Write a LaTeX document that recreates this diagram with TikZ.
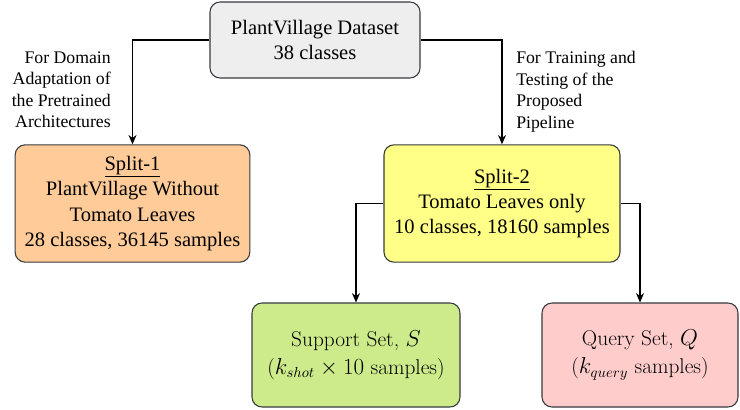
\documentclass[tikz,border=0pt]{standalone}
\usepackage{fontspec}
\setmainfont{Liberation Serif}
\newfontfamily\lmfont{Latin Modern Roman}
\usetikzlibrary{arrows.meta}

\definecolor{boxline}{HTML}{36393D}
\definecolor{grayfill}{HTML}{EEEEEE}
\definecolor{orangefill}{HTML}{FFCC99}
\definecolor{yellowfill}{HTML}{FFFF88}
\definecolor{greenfill}{HTML}{CDEB8B}
\definecolor{pinkfill}{HTML}{FFCCCC}

\begin{document}
\begin{tikzpicture}[x=0.75pt,y=-0.75pt,
            link/.style={-{Stealth[length=7pt,width=6pt]},line width=0.8pt},
            main node/.style={draw=boxline,line width=0.8pt,rounded corners=7.5pt,
                align=center,inner sep=0pt,font=\fontsize{15.4}{19}\selectfont},
            set node/.style={main node,font=\lmfont\fontsize{16}{21}\selectfont},
            note/.style={inner sep=0pt,font=\fontsize{13.3}{16.2}\selectfont}]

        \useasboundingbox (0,0) rectangle (740,410);

        % Define vertices
        \node[main node,fill=grayfill,minimum width=157.5pt,minimum height=57pt] (data) at (315,40)
            {PlantVillage Dataset\\38 classes};
        \node[main node,fill=orangefill,minimum width=176pt,minimum height=88pt] (split1) at (132.5,203.5)
            {\underline{Split-1}\\PlantVillage Without\\Tomato Leaves\\28 classes, 36145 samples};
        \node[main node,fill=yellowfill,minimum width=177pt,minimum height=88pt] (split2) at (502,203.5)
            {\underline{Split-2}\\Tomato Leaves only\\10 classes, 18160 samples};
        \node[set node,fill=greenfill,minimum width=156pt,minimum height=78pt] (support) at (356,355)
            {Support Set, $S$\\($k_{shot}\times 10$ samples)};
        \node[set node,fill=pinkfill,minimum width=147pt,minimum height=78pt] (query) at (640,355)
            {Query Set, $Q$\\($k_{query}$ samples)};

        % Labels
        \node[note,anchor=north east,align=right] (domain) at (111,51)
            {For Domain\\Adaptation of\\the Pretrained\\Architectures};
        \node[note,anchor=north west,align=left] (training) at (516,51)
            {For Training and\\Testing of the\\Proposed\\Pipeline};

        % Draw edges
        \draw[link] (data.west) -| (split1.north);
        \draw[link] (data.east) -| (split2.north);
        \draw[link] (split2.west) -| (support.north);
        \draw[link] (split2.east) -| (query.north);

\end{tikzpicture}
\end{document}
